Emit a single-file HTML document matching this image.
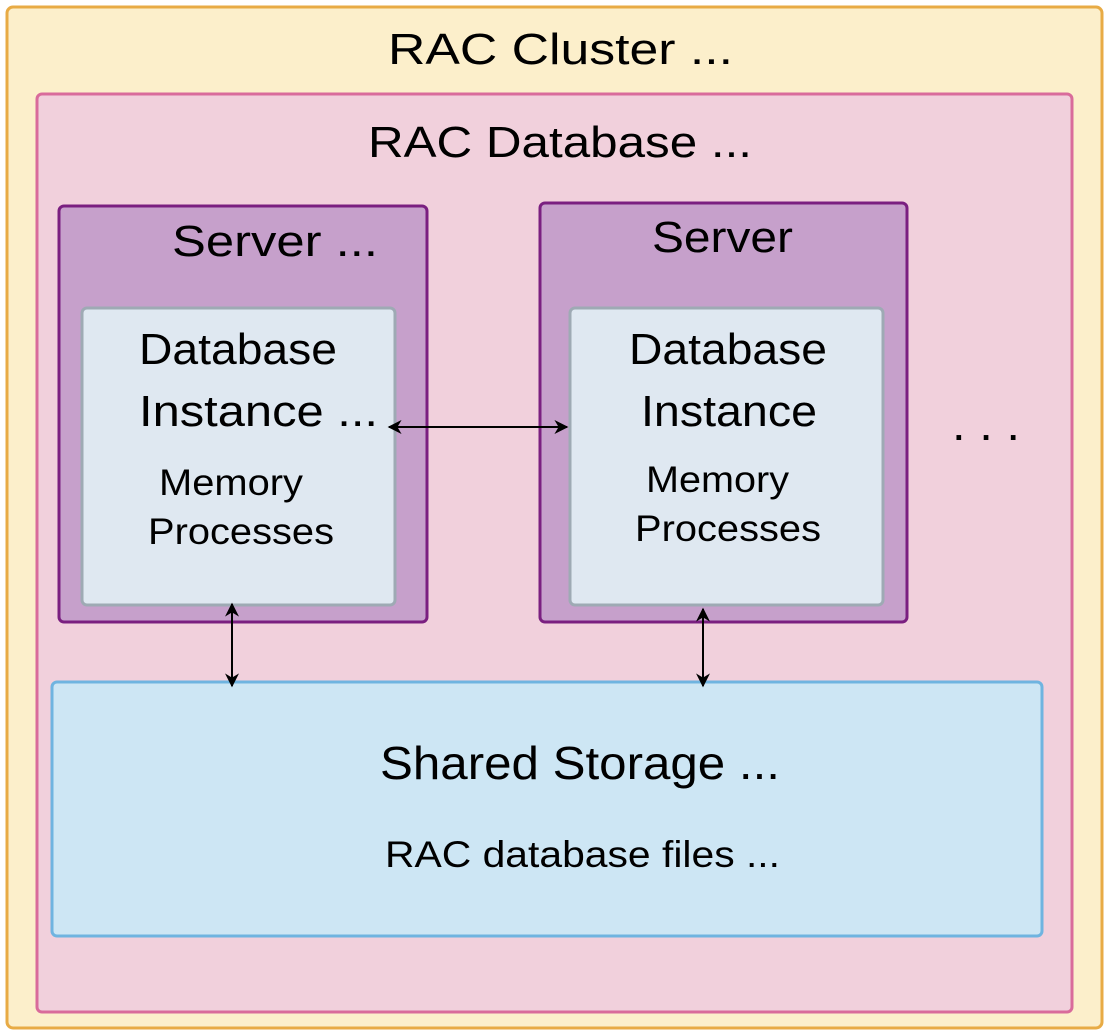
<!DOCTYPE html>
<html><head><meta charset="utf-8"><style>
html,body{margin:0;padding:0;background:#fff}
svg{display:block}
text{font-family:"Liberation Sans",sans-serif;fill:#000}
</style></head><body>
<svg width="1110" height="1035" viewBox="0 0 1110 1035">
<defs>
<marker id="a" viewBox="0 0 10 10" refX="9" refY="5" markerWidth="7" markerHeight="7" orient="auto-start-reverse"><path d="M0,0 L10,5 L0,10 L3,5 z" fill="#000"/></marker>
</defs>
<rect x="7" y="7" width="1095" height="1021" rx="6" fill="#fcefcb" stroke="#e8ab45" stroke-width="3"/>
<rect x="37" y="94" width="1035" height="918" rx="5" fill="#f1d0dc" stroke="#d96b9b" stroke-width="3"/>
<rect x="59" y="206" width="368" height="416" rx="5" fill="#c6a0cb" stroke="#7a1f80" stroke-width="3"/>
<rect x="540" y="203" width="367" height="419" rx="5" fill="#c6a0cb" stroke="#7a1f80" stroke-width="3"/>
<rect x="82" y="308" width="313" height="297" rx="5" fill="#dfe8f1" stroke="#9eaab4" stroke-width="3"/>
<rect x="570" y="308" width="313" height="297" rx="5" fill="#dfe8f1" stroke="#9eaab4" stroke-width="3"/>
<rect x="52" y="682" width="990" height="254" rx="5" fill="#cde6f4" stroke="#6fb4e0" stroke-width="3"/>

<text x="388" y="64" font-size="44" textLength="345" lengthAdjust="spacingAndGlyphs">RAC Cluster ...</text>
<text x="368" y="157" font-size="44" textLength="384" lengthAdjust="spacingAndGlyphs">RAC Database ...</text>
<text x="172" y="256" font-size="44" textLength="206" lengthAdjust="spacingAndGlyphs">Server ...</text>
<text x="652" y="252" font-size="44" textLength="141" lengthAdjust="spacingAndGlyphs">Server</text>
<text x="139" y="364" font-size="44" textLength="198" lengthAdjust="spacingAndGlyphs">Database</text>
<text x="139" y="426" font-size="44" textLength="239" lengthAdjust="spacingAndGlyphs">Instance ...</text>
<text x="159" y="495" font-size="37" textLength="144" lengthAdjust="spacingAndGlyphs">Memory</text>
<text x="148" y="544" font-size="37" textLength="186" lengthAdjust="spacingAndGlyphs">Processes</text>
<text x="629" y="364" font-size="44" textLength="198" lengthAdjust="spacingAndGlyphs">Database</text>
<text x="641" y="426" font-size="44" textLength="176" lengthAdjust="spacingAndGlyphs">Instance</text>
<text x="646" y="492" font-size="37" textLength="143" lengthAdjust="spacingAndGlyphs">Memory</text>
<text x="635" y="541" font-size="37" textLength="186" lengthAdjust="spacingAndGlyphs">Processes</text>
<text x="952" y="440" font-size="46" textLength="68" lengthAdjust="spacingAndGlyphs">. . .</text>
<text x="380" y="779" font-size="46" textLength="400" lengthAdjust="spacingAndGlyphs">Shared Storage ...</text>
<text x="385" y="867" font-size="37" textLength="395" lengthAdjust="spacingAndGlyphs">RAC database files ...</text>

<line x1="389" y1="427" x2="567" y2="427" stroke="#000" stroke-width="2" marker-start="url(#a)" marker-end="url(#a)"/>
<line x1="232" y1="604" x2="232" y2="686" stroke="#000" stroke-width="2" marker-start="url(#a)" marker-end="url(#a)"/>
<line x1="703" y1="609" x2="703" y2="686" stroke="#000" stroke-width="2" marker-start="url(#a)" marker-end="url(#a)"/>
</svg>
</body></html>
